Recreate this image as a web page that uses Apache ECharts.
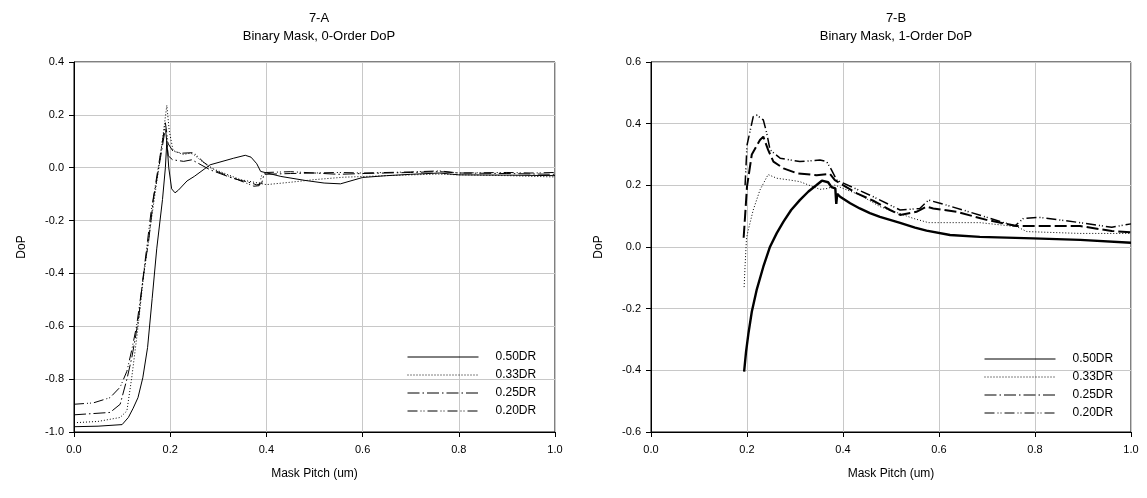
<!DOCTYPE html>
<html>
<head>
<meta charset="utf-8">
<script src="https://cdn.jsdelivr.net/npm/echarts@6/dist/echarts.min.js"></script>
<style>
html,body{margin:0;padding:0;background:#fff;}
#c{width:1147px;height:498px;}
</style>
</head>
<body>
<div id="c"></div>
<script>
// ---- Data ----
const seriesNames = ['0.50DR', '0.33DR', '0.25DR', '0.20DR'];
const xTicks = [0, 0.2, 0.4, 0.6, 0.8, 1.0];

// 7-A: Binary Mask, 0-Order DoP  [pitch, DoP]
const leftDR050 = [[0,-0.98],[0.05,-0.978],[0.1,-0.972],[0.113,-0.945],[0.123,-0.91],[0.133,-0.87],[0.143,-0.795],[0.153,-0.68],[0.1625,-0.495],[0.172,-0.307],[0.184,-0.12],[0.19,0.0],[0.193,0.1],[0.197,0.0],[0.203,-0.08],[0.21,-0.095],[0.217,-0.085],[0.235,-0.05],[0.25,-0.033],[0.283,0.011],[0.332,0.036],[0.356,0.047],[0.368,0.04],[0.38,0.015],[0.388,-0.014],[0.43,-0.033],[0.48,-0.048],[0.52,-0.058],[0.554,-0.061],[0.6,-0.037],[0.65,-0.03],[0.7,-0.025],[0.76,-0.02],[0.8,-0.027],[0.9,-0.028],[1.0,-0.03]];
const leftDR033 = [[0,-0.965],[0.05,-0.96],[0.096,-0.945],[0.11,-0.92],[0.12,-0.795],[0.132,-0.62],[0.144,-0.42],[0.157,-0.245],[0.17,-0.08],[0.18,0.05],[0.193,0.236],[0.198,0.14],[0.206,0.065],[0.227,0.05],[0.242,0.055],[0.249,0.05],[0.262,0.03],[0.283,0.0],[0.346,-0.045],[0.4,-0.064],[0.45,-0.055],[0.5,-0.045],[0.56,-0.036],[0.65,-0.03],[0.756,-0.024],[0.8,-0.027],[0.9,-0.03],[1.0,-0.035]];
const leftDR025 = [[0,-0.935],[0.075,-0.926],[0.096,-0.895],[0.11,-0.8],[0.12,-0.72],[0.127,-0.65],[0.135,-0.56],[0.141,-0.457],[0.148,-0.36],[0.155,-0.28],[0.165,-0.12],[0.18,0.04],[0.19,0.15],[0.196,0.045],[0.205,0.03],[0.228,0.024],[0.245,0.03],[0.283,-0.008],[0.33,-0.04],[0.367,-0.057],[0.38,-0.065],[0.39,-0.06],[0.395,-0.025],[0.45,-0.022],[0.5,-0.02],[0.55,-0.025],[0.6,-0.022],[0.7,-0.018],[0.76,-0.015],[0.8,-0.02],[0.9,-0.022],[1.0,-0.025]];
const leftDR020 = [[0,-0.895],[0.04,-0.89],[0.075,-0.87],[0.096,-0.83],[0.11,-0.77],[0.12,-0.69],[0.13,-0.6],[0.14,-0.47],[0.15,-0.32],[0.16,-0.17],[0.175,0.0],[0.19,0.17],[0.196,0.09],[0.206,0.062],[0.225,0.055],[0.249,0.057],[0.27,0.02],[0.297,-0.014],[0.34,-0.045],[0.374,-0.07],[0.385,-0.068],[0.39,-0.03],[0.4,-0.018],[0.45,-0.015],[0.5,-0.02],[0.55,-0.018],[0.6,-0.02],[0.7,-0.016],[0.76,-0.012],[0.8,-0.02],[0.9,-0.018],[0.95,-0.02],[1.0,-0.018]];

// 7-B: Binary Mask, 1-Order DoP  [pitch, DoP]
const rightDR050 = [[0.194,-0.404],[0.198,-0.34],[0.203,-0.28],[0.21,-0.21],[0.22,-0.14],[0.234,-0.064],[0.248,0.001],[0.262,0.045],[0.276,0.082],[0.292,0.12],[0.31,0.152],[0.328,0.18],[0.345,0.201],[0.356,0.215],[0.369,0.21],[0.376,0.194],[0.384,0.19],[0.386,0.14],[0.388,0.172],[0.394,0.163],[0.415,0.142],[0.435,0.125],[0.456,0.11],[0.477,0.098],[0.519,0.078],[0.55,0.063],[0.574,0.053],[0.623,0.039],[0.685,0.033],[0.796,0.028],[0.894,0.023],[1.0,0.014]];
const rightDR033 = [[0.194,-0.13],[0.196,-0.06],[0.199,0.03],[0.205,0.07],[0.213,0.12],[0.227,0.185],[0.244,0.235],[0.262,0.223],[0.29,0.217],[0.31,0.212],[0.352,0.187],[0.369,0.19],[0.383,0.201],[0.4,0.19],[0.435,0.169],[0.477,0.131],[0.546,0.093],[0.578,0.079],[0.685,0.079],[0.762,0.066],[0.783,0.05],[0.894,0.044],[1.0,0.044]];
const rightDR025 = [[0.193,0.03],[0.196,0.1],[0.2,0.196],[0.21,0.3],[0.227,0.347],[0.234,0.358],[0.244,0.315],[0.255,0.277],[0.276,0.255],[0.304,0.239],[0.345,0.233],[0.373,0.237],[0.383,0.217],[0.4,0.201],[0.429,0.174],[0.463,0.15],[0.498,0.12],[0.519,0.104],[0.553,0.114],[0.574,0.131],[0.588,0.125],[0.637,0.114],[0.699,0.088],[0.762,0.068],[0.894,0.068],[0.96,0.052],[1.0,0.048]];
const rightDR020 = [[0.196,0.2],[0.2,0.33],[0.213,0.423],[0.22,0.428],[0.234,0.412],[0.241,0.37],[0.248,0.315],[0.269,0.288],[0.31,0.277],[0.352,0.282],[0.366,0.277],[0.376,0.25],[0.387,0.217],[0.463,0.163],[0.519,0.12],[0.56,0.125],[0.578,0.152],[0.602,0.142],[0.65,0.12],[0.758,0.068],[0.776,0.093],[0.81,0.096],[0.894,0.079],[0.96,0.064],[1.0,0.075]];

// ---- Styles ----
const FONT = 'Liberation Sans, Arial, sans-serif';
const dashTypes = ['solid', [1,2], [12,3,1.5,3], [10,3,1,2,1,3]];
const leftWidths = [1, 1, 1, 1];
const rightWidths = [2.4, 1, 2, 1.5];
const rightDash = ['solid', [1,2], [12,4], [10,3,1,2,1,3]];

const chart = echarts.init(document.getElementById('c'), null, {renderer: 'canvas'});

function xAxis(gi) {
  return {
    gridIndex: gi, type: 'value', min: 0, max: 1, interval: 0.2,
    name: 'Mask Pitch (um)', nameLocation: 'middle', nameGap: 36,
    nameTextStyle: {fontFamily: FONT, fontSize: 12, color: '#000'},
    axisLine: {show: true, onZero: false, lineStyle: {color: '#000', width: 1}},
    axisTick: {show: true, length: 5, inside: false, lineStyle: {color: '#000'}},
    axisLabel: {fontFamily: FONT, fontSize: 11, color: '#000', margin: 12, formatter: v => v.toFixed(1)},
    splitLine: {show: true, lineStyle: {color: '#c8c8c8', width: 1}}
  };
}
function yAxis(gi, min, max) {
  return {
    gridIndex: gi, type: 'value', min: min, max: max, interval: 0.2,
    name: 'DoP', nameLocation: 'middle', nameGap: 46, nameRotate: 90,
    nameTextStyle: {fontFamily: FONT, fontSize: 12, color: '#000'},
    axisLine: {show: true, onZero: false, lineStyle: {color: '#000', width: 1}},
    axisTick: {show: true, length: 5, inside: false, lineStyle: {color: '#000'}},
    axisLabel: {fontFamily: FONT, fontSize: 11, color: '#000', margin: 10, formatter: v => v.toFixed(1)},
    splitLine: {show: true, lineStyle: {color: '#c8c8c8', width: 1}}
  };
}

const leftData = [leftDR050, leftDR033, leftDR025, leftDR020];
const rightData = [rightDR050, rightDR033, rightDR025, rightDR020];
const series = [];
seriesNames.forEach((n, i) => {
  series.push({
    name: n, type: 'line', xAxisIndex: 0, yAxisIndex: 0, data: leftData[i],
    symbol: 'none', smooth: false, animation: false, color: '#000',
    itemStyle: {color: '#000'},
    lineStyle: {color: '#000', width: leftWidths[i], type: dashTypes[i]}
  });
});
seriesNames.forEach((n, i) => {
  series.push({
    name: n, type: 'line', xAxisIndex: 1, yAxisIndex: 1, data: rightData[i],
    symbol: 'none', smooth: false, animation: false, color: '#000',
    itemStyle: {color: '#000'},
    lineStyle: {color: '#000', width: rightWidths[i], type: rightDash[i]}
  });
});

function legend(left, top) {
  return {
    data: seriesNames, orient: 'vertical', left: left, top: top,
    itemWidth: 71, itemHeight: 12, itemGap: 6, padding: 0,
    selectedMode: false,
    itemStyle: {opacity: 0},
    textStyle: {fontFamily: FONT, fontSize: 12, color: '#000', padding: [0, 0, 0, 12]},
    lineStyle: {width: 1, color: '#000'}
  };
}

chart.setOption({
  backgroundColor: '#fff',
  animation: false,
  title: [
    {text: '7-A\nBinary Mask, 0-Order DoP', left: 314, top: 4, textAlign: 'center',
     textStyle: {fontFamily: FONT, fontSize: 13, fontWeight: 'normal', color: '#000', lineHeight: 18}},
    {text: '7-B\nBinary Mask, 1-Order DoP', left: 891, top: 4, textAlign: 'center',
     textStyle: {fontFamily: FONT, fontSize: 13, fontWeight: 'normal', color: '#000', lineHeight: 18}}
  ],
  legend: [legend(407, 351), legend(984, 353)],
  grid: [
    {left: 74, right: 592, top: 62, bottom: 66, show: true, borderColor: '#000', borderWidth: 1, containLabel: false},
    {left: 651, right: 16, top: 62, bottom: 66, show: true, borderColor: '#000', borderWidth: 1, containLabel: false}
  ],
  xAxis: [xAxis(0), xAxis(1)],
  yAxis: [yAxis(0, -1.0, 0.4), yAxis(1, -0.6, 0.6)],
  series: series
});
</script>
</body>
</html>
